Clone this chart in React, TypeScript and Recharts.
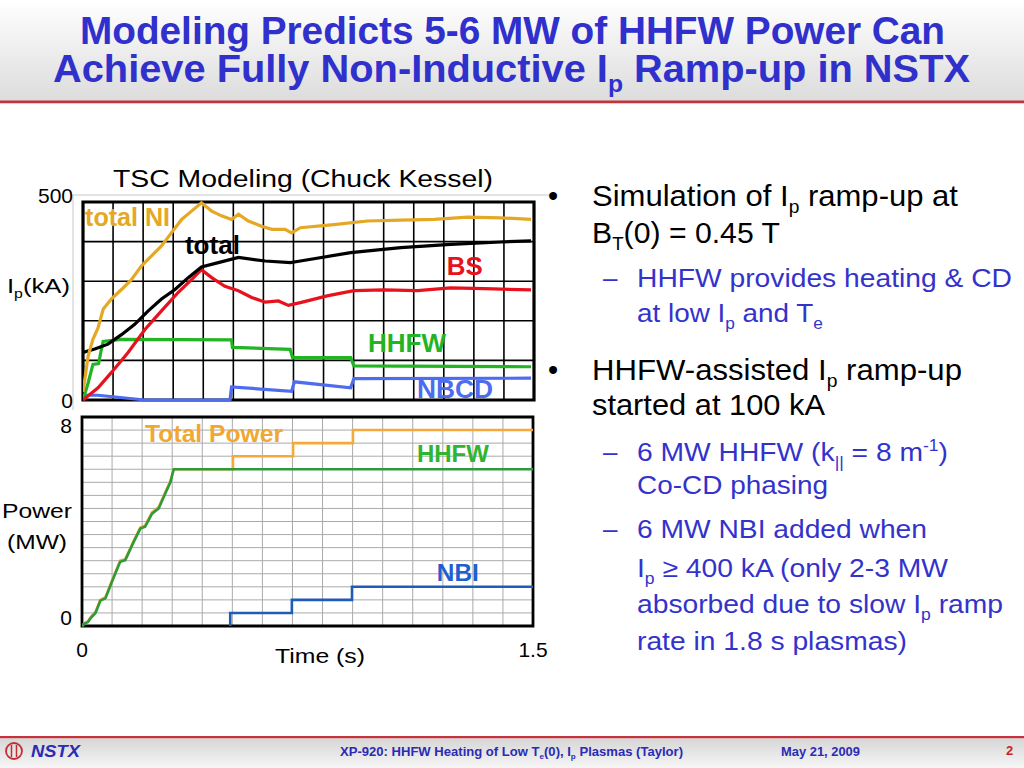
import React from 'react';
import {
  LineChart,
  Line,
  XAxis,
  YAxis,
  CartesianGrid,
  ReferenceArea,
  ReferenceDot,
} from 'recharts';

const FONT = "'Liberation Sans', Arial, Helvetica, sans-serif";

// TSC modelling, plasma current components (time in s, current in kA)
const niTime = [0, 0.017, 0.033, 0.05, 0.067, 0.094, 0.128, 0.161, 0.194, 0.228, 0.261, 0.294, 0.328, 0.361, 0.394, 0.428, 0.461, 0.494, 0.517, 0.55, 0.594, 0.628, 0.672, 0.694, 0.723, 0.834, 0.946, 1.057, 1.168, 1.279, 1.39, 1.49];
const niKA = [20, 111, 153, 182, 229, 255, 279, 304, 338, 364, 389, 422, 456, 477, 498, 477, 465, 456, 469, 452, 439, 431, 431, 422, 435, 443, 452, 454, 456, 462, 460, 456];

const totalTime = [0, 0.039, 0.083, 0.128, 0.172, 0.217, 0.261, 0.306, 0.35, 0.394, 0.45, 0.517, 0.606, 0.69, 0.723, 0.89, 1.057, 1.223, 1.39, 1.49];
const totalKA = [120, 129, 141, 165, 191, 225, 255, 279, 309, 336, 347, 360, 351, 347, 351, 372, 385, 393, 399, 402];

const bsTime = [0, 0.05, 0.094, 0.15, 0.206, 0.261, 0.317, 0.361, 0.394, 0.428, 0.472, 0.517, 0.561, 0.606, 0.65, 0.683, 0.723, 0.812, 0.901, 1.001, 1.112, 1.223, 1.334, 1.49];
const bsKA = [0, 31, 69, 120, 178, 225, 272, 304, 329, 309, 287, 276, 259, 247, 250, 239, 246, 263, 276, 278, 276, 283, 281, 278];

const rfCdTime = [0, 0.017, 0.033, 0.052, 0.059, 0.067, 0.128, 0.494, 0.497, 0.689, 0.697, 0.89, 0.901, 1.49];
const rfCdKA = [0, 43, 90, 92, 120, 148, 153, 152, 133, 128, 107, 107, 86, 84];

const nbcdTime = [0, 0.05, 0.206, 0.489, 0.494, 0.694, 0.703, 0.89, 0.901, 1.49];
const nbcdKA = [12, 12, 0, 0, 33, 22, 46, 31, 54, 55];

// heating power (time in s, power in MW)
const rfPowerTime = [0, 0.01, 0.02, 0.028, 0.045, 0.061, 0.078, 0.1, 0.127, 0.144, 0.172, 0.194, 0.21, 0.233, 0.255, 0.277, 0.294, 0.305, 1.5];
const rfPowerMW = [0, 0.1, 0.15, 0.29, 0.5, 0.97, 1.06, 1.7, 2.46, 2.52, 3.22, 3.73, 3.8, 4.3, 4.5, 5.07, 5.5, 6.0, 6.0];

const totPowerTime = [0, 0.01, 0.02, 0.028, 0.045, 0.061, 0.078, 0.1, 0.127, 0.144, 0.172, 0.194, 0.21, 0.233, 0.255, 0.277, 0.294, 0.305, 0.502, 0.502, 0.702, 0.702, 0.901, 0.901, 1.5];
const totPowerMW = [0, 0.12, 0.18, 0.32, 0.55, 1.0, 1.1, 1.75, 2.5, 2.56, 3.26, 3.77, 3.85, 4.35, 4.55, 5.12, 5.55, 6.0, 6.0, 6.5, 6.5, 7.0, 7.0, 7.5, 7.5];

const nbiTime = [0.493, 0.493, 0.698, 0.698, 0.898, 0.898, 1.5];
const nbiMW = [0, 0.5, 0.5, 1.0, 1.0, 1.5, 1.5];

// axes / grids
const timeDomain: [number, number] = [0, 1.5];
const ipDomain: [number, number] = [0, 500];
const powerDomain: [number, number] = [0, 8];
const timeGrid = [0.1, 0.2, 0.3, 0.4, 0.5, 0.6, 0.7, 0.8, 0.9, 1.0, 1.1, 1.2, 1.3, 1.4];
const ipGrid = [100, 200, 300, 400];
const powerGrid = [0.5, 1, 1.5, 2, 2.5, 3, 3.5, 4, 4.5, 5, 5.5, 6, 6.5, 7, 7.5];
const ipTicks = [0, 500];
const powerTicks = [0, 8];
const timeTicks = [0, 1.5];

const zip = (t: number[], v: number[]) => t.map((x, i) => ({ t: x, v: v[i] }));

const ipLabels = [
  { text: 'total NI', t: 0.007, v: 439, color: '#e5a824', w: 85 },
  { text: 'total', t: 0.339, v: 369, color: '#000000', w: 55 },
  { text: 'BS', t: 1.21, v: 316, color: '#e8121e', w: 36 },
  { text: 'HHFW', t: 0.948, v: 121, color: '#22b422', w: 78 },
  { text: 'NBCD', t: 1.111, v: 5, color: '#4d6cf0', w: 76 },
];

const powerLabels = [
  { text: 'Total Power', t: 0.21, v: 7.03, color: '#f0a830', w: 138 },
  { text: 'HHFW', t: 1.114, v: 6.28, color: '#2fb52f', w: 72 },
  { text: 'NBI', t: 1.18, v: 1.72, color: '#1f5fd0', w: 42 },
];

type Seg = string | { sub: string } | { sup: string };

const bulletLines: { segs: Seg[]; x: number; y: number; w: number; size: number; color: string }[] = [
  { segs: ['Simulation of I', { sub: 'p' }, ' ramp-up at'], x: 592, y: 206, w: 366, size: 29, color: '#000' },
  { segs: ['B', { sub: 'T' }, '(0) = 0.45 T'], x: 592, y: 243, w: 188, size: 29, color: '#000' },
  { segs: ['HHFW provides heating & CD'], x: 637, y: 287, w: 375, size: 26, color: '#3333cc' },
  { segs: ['at low I', { sub: 'p' }, ' and T', { sub: 'e' }], x: 637, y: 322, w: 186, size: 26, color: '#3333cc' },
  { segs: ['HHFW-assisted I', { sub: 'p' }, ' ramp-up'], x: 592, y: 380, w: 370, size: 29, color: '#000' },
  { segs: ['started at 100 kA'], x: 592, y: 415, w: 233, size: 29, color: '#000' },
  { segs: ['6 MW HHFW (k', { sub: '||' }, ' = 8 m', { sup: '-1' }, ')'], x: 637, y: 461, w: 311, size: 26, color: '#3333cc' },
  { segs: ['Co-CD phasing'], x: 637, y: 494, w: 191, size: 26, color: '#3333cc' },
  { segs: ['6 MW NBI added when'], x: 637, y: 538, w: 290, size: 26, color: '#3333cc' },
  { segs: ['I', { sub: 'p' }, ' \u2265 400 kA (only 2-3 MW'], x: 637, y: 577, w: 311, size: 26, color: '#3333cc' },
  { segs: ['absorbed due to slow I', { sub: 'p' }, ' ramp'], x: 637, y: 613, w: 366, size: 26, color: '#3333cc' },
  { segs: ['rate in 1.8 s plasmas)'], x: 637, y: 650, w: 270, size: 26, color: '#3333cc' },
];
const bulletDots = [206, 380];
const bulletDashes = [287, 461, 538];

function Rich({ x, y, size, color, w, weight, italic, segs }: any) {
  let shift = 0;
  const parts = (segs as Seg[]).map((s, i) => {
    if (typeof s === 'string') {
      const dy = -shift;
      shift = 0;
      return (
        <tspan key={i} dy={dy}>
          {s}
        </tspan>
      );
    }
    const isSub = 'sub' in s;
    const target = isSub ? size * 0.25 : -size * 0.38;
    const dy = target - shift;
    shift = target;
    return (
      <tspan key={i} dy={dy} fontSize={size * 0.62}>
        {isSub ? (s as any).sub : (s as any).sup}
      </tspan>
    );
  });
  return (
    <text
      x={x}
      y={y}
      fontSize={size}
      fontFamily={FONT}
      fontWeight={weight}
      fontStyle={italic ? 'italic' : undefined}
      fill={color}
      textLength={w}
      lengthAdjust="spacingAndGlyphs"
    >
      {parts}
    </text>
  );
}

const chartLabel = (text: string, color: string, w: number, size: number) => (p: any) =>
  (
    <text
      x={p.cx}
      y={p.cy}
      fontSize={size}
      fontWeight="bold"
      fontFamily={FONT}
      fill={color}
      textLength={w}
      lengthAdjust="spacingAndGlyphs"
    >
      {text}
    </text>
  );

const sideTick = (offsets: Record<number, number>) => (p: any) =>
  (
    <text
      x={p.x}
      y={p.y + (offsets[p.payload.value] ?? 0)}
      textAnchor="end"
      fontSize={21}
      fontFamily={FONT}
      fill="#000"
    >
      {String(p.payload.value)}
    </text>
  );

function CurrentChart() {
  return (
    <LineChart width={544} height={238} margin={{ top: 20, right: 10, bottom: 20, left: 11 }}>
      <XAxis type="number" dataKey="t" domain={timeDomain} hide allowDataOverflow />
      <YAxis
        type="number"
        dataKey="v"
        domain={ipDomain}
        ticks={ipTicks}
        width={72}
        axisLine={false}
        tickLine={false}
        tickSize={0}
        tickMargin={10}
        interval={0}
        tick={sideTick({ 500: 1, 0: 8 })}
      />
      <CartesianGrid
        stroke="#000"
        strokeWidth={1.6}
        horizontalValues={ipGrid}
        verticalValues={timeGrid}
      />
      <Line data={zip(nbcdTime, nbcdKA)} dataKey="v" type="linear" stroke="#4d6cf0" strokeWidth={3.2} dot={false} isAnimationActive={false} />
      <Line data={zip(rfCdTime, rfCdKA)} dataKey="v" type="linear" stroke="#22b422" strokeWidth={3.2} dot={false} isAnimationActive={false} />
      <Line data={zip(bsTime, bsKA)} dataKey="v" type="linear" stroke="#e8121e" strokeWidth={3.2} dot={false} isAnimationActive={false} />
      <Line data={zip(totalTime, totalKA)} dataKey="v" type="linear" stroke="#000000" strokeWidth={3.2} dot={false} isAnimationActive={false} />
      <Line data={zip(niTime, niKA)} dataKey="v" type="linear" stroke="#e5a824" strokeWidth={3.2} dot={false} isAnimationActive={false} />
      <ReferenceArea
        x1={timeDomain[0]}
        x2={timeDomain[1]}
        y1={ipDomain[0]}
        y2={ipDomain[1]}
        fill="none"
        stroke="#000"
        strokeWidth={3.2}
        ifOverflow="visible"
      />
      {ipLabels.map((l) => (
        <ReferenceDot
          key={l.text}
          x={l.t}
          y={l.v}
          r={1}
          ifOverflow="visible"
          shape={chartLabel(l.text, l.color, l.w, 25)}
        />
      ))}
    </LineChart>
  );
}

function PowerChart() {
  return (
    <LineChart width={574} height={259} margin={{ top: 10, right: 41, bottom: 0, left: 10 }}>
      <XAxis
        type="number"
        dataKey="t"
        domain={timeDomain}
        ticks={timeTicks}
        height={40}
        axisLine={false}
        tickLine={false}
        tickSize={0}
        tickMargin={16}
        interval={0}
        tick={{ fontSize: 21, fill: '#000', fontFamily: FONT }}
        allowDataOverflow
      />
      <YAxis
        type="number"
        dataKey="v"
        domain={powerDomain}
        ticks={powerTicks}
        width={72}
        axisLine={false}
        tickLine={false}
        tickSize={0}
        tickMargin={10}
        interval={0}
        tick={sideTick({ 8: 16, 0: -1 })}
      />
      <CartesianGrid
        stroke="#aaaaaa"
        strokeWidth={1}
        horizontalValues={powerGrid}
        verticalValues={timeGrid}
      />
      <Line data={zip(totPowerTime, totPowerMW)} dataKey="v" type="linear" stroke="#f4a93a" strokeWidth={2.6} dot={false} isAnimationActive={false} />
      <Line data={zip(rfPowerTime, rfPowerMW)} dataKey="v" type="linear" stroke="#2f9a3c" strokeWidth={2.6} dot={false} isAnimationActive={false} />
      <Line data={zip(nbiTime, nbiMW)} dataKey="v" type="linear" stroke="#1f5cb8" strokeWidth={2.6} dot={false} isAnimationActive={false} />
      <ReferenceArea
        x1={timeDomain[0]}
        x2={timeDomain[1]}
        y1={powerDomain[0]}
        y2={powerDomain[1]}
        fill="none"
        stroke="#000"
        strokeWidth={2.8}
        ifOverflow="visible"
      />
      {powerLabels.map((l) => (
        <ReferenceDot
          key={l.text}
          x={l.t}
          y={l.v}
          r={1}
          ifOverflow="visible"
          shape={chartLabel(l.text, l.color, l.w, 23)}
        />
      ))}
    </LineChart>
  );
}

function Slide() {
  const blue = '#3030cc';
  return (
    <svg width={1024} height={768} style={{ position: 'absolute', left: 0, top: 0 }}>
      <defs>
        <linearGradient id="hdr" x1="0" y1="0" x2="0" y2="1">
          <stop offset="0%" stopColor="#ffffff" />
          <stop offset="100%" stopColor="#dcdcdc" />
        </linearGradient>
        <linearGradient id="ftr" x1="0" y1="0" x2="0" y2="1">
          <stop offset="0%" stopColor="#d6d6d6" />
          <stop offset="100%" stopColor="#f6f6f6" />
        </linearGradient>
      </defs>
      <rect x={0} y={0} width={1024} height={768} fill="#fff" />
      <rect x={0} y={0} width={1024} height={101} fill="url(#hdr)" />
      <rect x={0} y={100.5} width={1024} height={2.5} fill="#c4333b" />
      <rect x={0} y={103} width={1024} height={1} fill="#f0c8cc" />

      <Rich x={80} y={44} size={38} weight="bold" color={blue} w={865} segs={['Modeling Predicts 5-6 MW of HHFW Power Can']} />
      <Rich x={53} y={82} size={38} weight="bold" color={blue} w={917} segs={['Achieve Fully Non-Inductive I', { sub: 'p' }, ' Ramp-up in NSTX']} />

      {/* picture frame round the modelling plot */}
      <polyline points="73,410 73,195 552,195" fill="none" stroke="#c8c8c8" strokeWidth={1} />

      <Rich x={113} y={187} size={23} color="#000" w={380} segs={['TSC Modeling (Chuck Kessel)']} />
      <Rich x={7} y={293} size={21} color="#000" w={63} segs={['I', { sub: 'p' }, '(kA)']} />
      <Rich x={2} y={518} size={21} color="#000" w={70} segs={['Power']} />
      <Rich x={7} y={549} size={21} color="#000" w={60} segs={['(MW)']} />
      <Rich x={275} y={663} size={21} color="#000" w={90} segs={['Time (s)']} />

      {bulletDots.map((y) => (
        <text key={y} x={548} y={y} fontSize={29} fontFamily={FONT} fill="#000">
          {'\u2022'}
        </text>
      ))}
      {bulletDashes.map((y) => (
        <text key={y} x={603} y={y} fontSize={26} fontFamily={FONT} fill="#3333cc">
          {'\u2013'}
        </text>
      ))}
      {bulletLines.map((l, i) => (
        <Rich key={i} x={l.x} y={l.y} size={l.size} color={l.color} w={l.w} segs={l.segs} />
      ))}

      <rect x={0} y={736} width={1024} height={2.5} fill="#c4333b" />
      <rect x={0} y={738.5} width={1024} height={29.5} fill="url(#ftr)" />
      <circle cx={14} cy={751} r={8} fill="none" stroke="#c03030" strokeWidth={1.8} />
      <line x1={11.5} y1={745} x2={11.5} y2={757} stroke="#c03030" strokeWidth={1.5} />
      <line x1={16.5} y1={745} x2={16.5} y2={757} stroke="#c03030" strokeWidth={1.5} />
      <Rich x={31} y={757} size={17} weight="bold" italic color="#2b2bb5" w={49} segs={['NSTX']} />
      <Rich
        x={340}
        y={756}
        size={13}
        weight="bold"
        color="#2b2bb5"
        w={343}
        segs={['XP-920: HHFW Heating of Low T', { sub: 'e' }, '(0), I', { sub: 'p' }, ' Plasmas (Taylor)']}
      />
      <Rich x={781} y={756} size={13} weight="bold" color="#2b2bb5" w={79} segs={['May 21, 2009']} />
      <text x={1006} y={755} fontSize={13} fontWeight="bold" fontFamily={FONT} fill="#cc2222">
        2
      </text>
    </svg>
  );
}

export default function App() {
  return (
    <div
      style={{
        position: 'fixed',
        left: 0,
        top: 0,
        width: 1024,
        height: 768,
        overflow: 'hidden',
        background: '#fff',
        fontFamily: FONT,
      }}
    >
      <Slide />
      <div style={{ position: 'absolute', left: 0, top: 182 }}>
        <CurrentChart />
      </div>
      <div style={{ position: 'absolute', left: 0, top: 407 }}>
        <PowerChart />
      </div>
    </div>
  );
}
